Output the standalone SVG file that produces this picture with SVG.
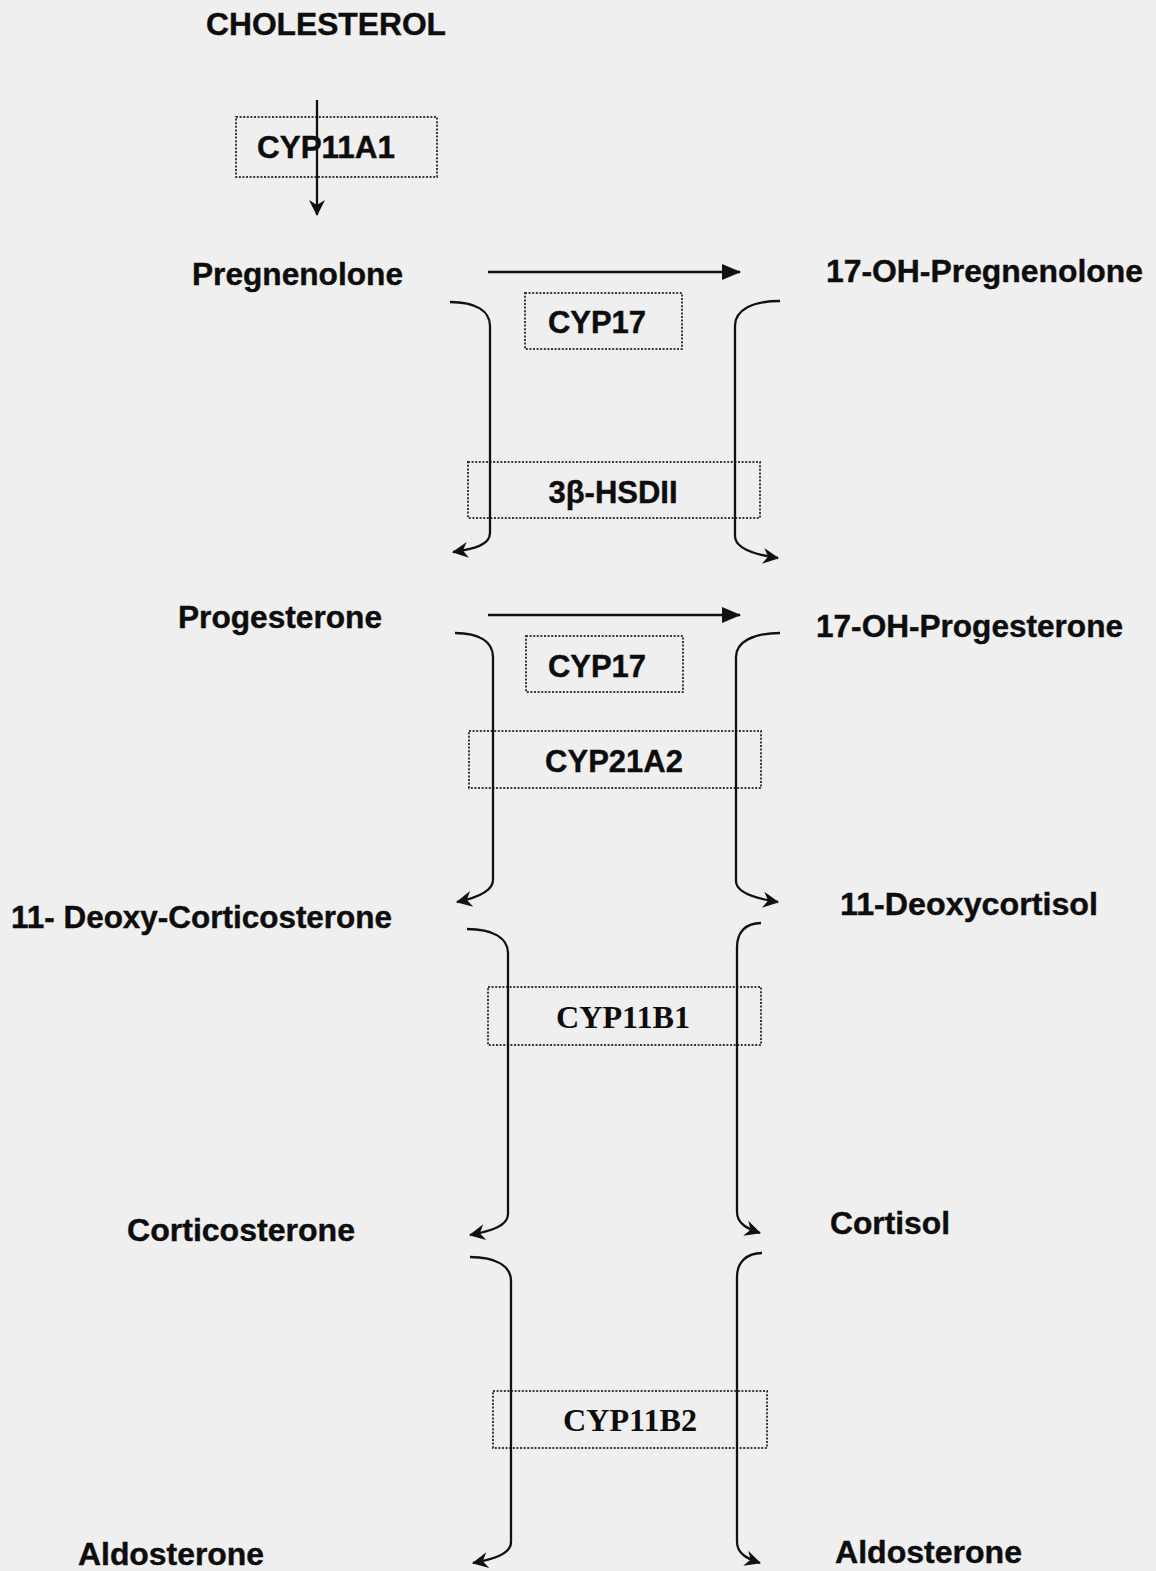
<svg xmlns="http://www.w3.org/2000/svg" width="1156" height="1571" viewBox="0 0 1156 1571">
<style>
.lbl{font-family:"Liberation Sans",Arial,sans-serif;font-weight:bold;font-size:31px;fill:#0d0d0d;stroke:#0d0d0d;stroke-width:0.4}
.enz{font-family:"Liberation Sans",Arial,sans-serif;font-weight:bold;font-size:31px;fill:#0d0d0d;stroke:#0d0d0d;stroke-width:0.4;text-anchor:middle}
.enzs{font-family:"Liberation Serif","Times New Roman",serif;font-weight:bold;font-size:32px;fill:#0d0d0d;text-anchor:middle}
.box{fill:none;stroke:#3a3a3a;stroke-width:2;stroke-dasharray:2 1.6}
.ln{fill:none;stroke:#111;stroke-width:2.3}
</style>
<defs>
<marker id="barb" markerUnits="userSpaceOnUse" markerWidth="22" markerHeight="22" viewBox="-18 -11 20 22" refX="0" refY="0" orient="auto">
<path d="M1,0 L-15,-8 L-10,0 L-15,8 Z" fill="#111"/>
</marker>
<marker id="tri" markerUnits="userSpaceOnUse" markerWidth="24" markerHeight="20" viewBox="-20 -10 22 20" refX="0" refY="0" orient="auto">
<path d="M1,0 L-18,-8 L-18,8 Z" fill="#111"/>
</marker>
</defs>
<rect width="1156" height="1571" fill="#efefef"/>

<g id="cholesterol"><text class="lbl" x="206" y="35" textLength="240" lengthAdjust="spacingAndGlyphs">CHOLESTEROL</text></g>
<g id="pregnenolone"><text class="lbl" x="192" y="285" textLength="211" lengthAdjust="spacingAndGlyphs">Pregnenolone</text></g>
<g id="oh-pregnenolone"><text class="lbl" x="826" y="282" textLength="317" lengthAdjust="spacingAndGlyphs">17-OH-Pregnenolone</text></g>
<g id="progesterone"><text class="lbl" x="178" y="628" textLength="204" lengthAdjust="spacingAndGlyphs">Progesterone</text></g>
<g id="oh-progesterone"><text class="lbl" x="816" y="637" textLength="307" lengthAdjust="spacingAndGlyphs">17-OH-Progesterone</text></g>
<g id="deoxycorticosterone"><text class="lbl" x="11" y="928" textLength="381" lengthAdjust="spacingAndGlyphs">11- Deoxy-Corticosterone</text></g>
<g id="deoxycortisol"><text class="lbl" x="840" y="915" textLength="258" lengthAdjust="spacingAndGlyphs">11-Deoxycortisol</text></g>
<g id="corticosterone"><text class="lbl" x="127" y="1241" textLength="228" lengthAdjust="spacingAndGlyphs">Corticosterone</text></g>
<g id="cortisol"><text class="lbl" x="830" y="1234" textLength="120" lengthAdjust="spacingAndGlyphs">Cortisol</text></g>
<g id="aldosterone-left"><text class="lbl" x="78" y="1565" textLength="186" lengthAdjust="spacingAndGlyphs">Aldosterone</text></g>
<g id="aldosterone-right"><text class="lbl" x="835" y="1563" textLength="187" lengthAdjust="spacingAndGlyphs">Aldosterone</text></g>

<g id="enz-cyp11a1"><rect class="box" x="236" y="117" width="201" height="60"/><text class="lbl" x="257" y="158" textLength="138" lengthAdjust="spacingAndGlyphs">CYP11A1</text></g>
<g id="enz-cyp17-1"><rect class="box" x="525" y="293" width="157" height="56"/><text class="enz" x="597" y="333">CYP17</text></g>
<g id="enz-3bhsd"><rect class="box" x="468" y="462" width="292" height="56"/><text class="enz" x="613" y="503">3β-HSDII</text></g>
<g id="enz-cyp17-2"><rect class="box" x="526" y="636" width="157" height="56"/><text class="enz" x="597" y="677">CYP17</text></g>
<g id="enz-cyp21a2"><rect class="box" x="469" y="731" width="292" height="57"/><text class="enz" x="614" y="772">CYP21A2</text></g>
<g id="enz-cyp11b1"><rect class="box" x="488" y="987" width="273" height="58"/><text class="enzs" x="623" y="1028" textLength="134" lengthAdjust="spacingAndGlyphs">CYP11B1</text></g>
<g id="enz-cyp11b2"><rect class="box" x="493" y="1391" width="274" height="57"/><text class="enzs" x="630" y="1431" textLength="134" lengthAdjust="spacingAndGlyphs">CYP11B2</text></g>

<g id="connectors">
<path class="ln" d="M317,100 L317,215" marker-end="url(#barb)"/>
<path class="ln" d="M488,272 L740,272" marker-end="url(#tri)"/>
<path class="ln" d="M488,615 L740,615" marker-end="url(#tri)"/>

<path class="ln" d="M450,302 C476,302 490,311 490,326 L490,533 C490,545 474,549 453,552" marker-end="url(#barb)"/>
<path class="ln" d="M780,301 C752,301 735,310 735,326 L735,536 C735,549 757,555 778,558" marker-end="url(#barb)"/>

<path class="ln" d="M455,633 C480,633 493,642 493,657 L493,880 C493,892 476,898 457,902" marker-end="url(#barb)"/>
<path class="ln" d="M780,633 C753,633 736,642 736,657 L736,881 C736,893 758,899 778,902" marker-end="url(#barb)"/>

<path class="ln" d="M467,929 C493,929 508,938 508,953 L508,1214 C508,1226 491,1231 470,1235" marker-end="url(#barb)"/>
<path class="ln" d="M761,923 C746,923 737,932 737,947 L737,1212 C737,1224 748,1229 760,1233" marker-end="url(#barb)"/>

<path class="ln" d="M470,1257 C496,1257 511,1266 511,1281 L511,1542 C511,1554 494,1559 473,1563" marker-end="url(#barb)"/>
<path class="ln" d="M762,1253 C747,1253 737,1262 737,1277 L737,1542 C737,1554 748,1559 760,1563" marker-end="url(#barb)"/>
</g>
</svg>
